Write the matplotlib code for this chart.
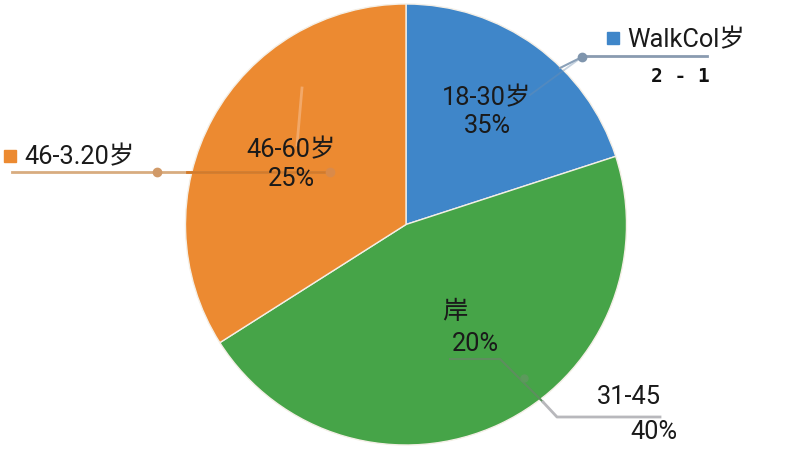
import matplotlib
matplotlib.use("Agg")
import matplotlib.pyplot as plt

plt.rcParams['font.family'] = ['Roboto', 'Noto Sans CJK SC', 'DejaVu Sans']

# slice data (clockwise from 12 o'clock)
slices = ['18-30岁', '31-45', '46-60岁']
shares = [20, 46, 34]
colors = ['#3f86c9', '#46a448', '#ec8a31']

# labels as printed on the chart
inner_labels = [('18-30岁', '35%'), ('岸', '20%'), ('46-60岁', '25%')]
outer_blue = ('WalkCol岁', '2 - 1')
outer_green = ('31-45', '40%')
outer_orange = '46-3.20岁'

H = 450
fig = plt.figure(figsize=(8, 4.5), dpi=100)
ax = fig.add_axes([0, 0, 1, 1])


def Y(y):
    return H - y


ax.pie(shares, colors=colors, startangle=90, counterclock=False,
       center=(406, Y(224.5)), radius=220.5,
       wedgeprops=dict(edgecolor='#f4efe6', linewidth=1.0), frame=True)
ax.set_xlim(0, 800)
ax.set_ylim(0, H)
ax.set_aspect('equal')
ax.axis('off')

fs = 18.3
tc = '#1a1a1a'
# inner labels
ax.text(487, Y(98), inner_labels[0][0], fontsize=fs, ha='center', va='center', color=tc)
ax.text(487, Y(126), inner_labels[0][1], fontsize=fs, ha='center', va='center', color=tc)
ax.text(291, Y(150), inner_labels[2][0], fontsize=fs, ha='center', va='center', color=tc)
ax.text(291, Y(179), inner_labels[2][1], fontsize=fs, ha='center', va='center', color=tc)
ax.text(455, Y(312), inner_labels[1][0], fontsize=fs, ha='center', va='center', color=tc)
ax.text(475, Y(344), inner_labels[1][1], fontsize=fs, ha='center', va='center', color=tc)

# blue leader + label
ax.plot([530, 582], [Y(95), Y(57)], color='#6f8fb0', lw=1.3, alpha=0.4)
ax.plot([560, 582], [Y(68), Y(57)], color='#8aa0b8', lw=1.5)
ax.plot([582, 707], [Y(56), Y(56)], color='#8a9bb0', lw=2)
ax.plot(582, Y(57), 'o', color='#7f95ad', ms=6)
ax.plot(613, Y(38), 's', color='#3f86c9', ms=8)
ax.text(627, Y(40), outer_blue[0], fontsize=fs, ha='left', va='center', color=tc)
ax.text(680, Y(76), outer_blue[1], fontsize=14, ha='center', va='center', color='#111111',
        family='DejaVu Sans Mono', fontweight='bold')

# orange leader + label
ax.plot([12, 330], [Y(172), Y(172)], color='#d8ac80', lw=2)
ax.plot([187, 330], [Y(172), Y(172)], color='#d37a2a', lw=2)
ax.plot(157, Y(172), 'o', color='#d19a68', ms=6)
ax.plot(330, Y(172), 'o', color='#d98a4a', ms=6)
ax.plot([302, 297], [Y(88), Y(145)], color='#f2a868', lw=2)
ax.plot(10, Y(156), 's', color='#ec8a31', ms=8)
ax.text(24, Y(157), outer_orange, fontsize=fs, ha='left', va='center', color=tc)

# green leader + label
ax.plot([450, 500, 543], [Y(359), Y(359), Y(402)], color='#5e8f5e', lw=1.5)
ax.plot([543, 557, 660], [Y(402), Y(417), Y(417)], color='#b8b8bc', lw=2)
ax.plot(524, Y(378), 'o', color='#5c9a5c', ms=5)
ax.text(629, Y(397), outer_green[0], fontsize=fs, ha='center', va='center', color=tc)
ax.text(654, Y(432), outer_green[1], fontsize=fs, ha='center', va='center', color=tc)

fig.savefig('out.png', dpi=100)
